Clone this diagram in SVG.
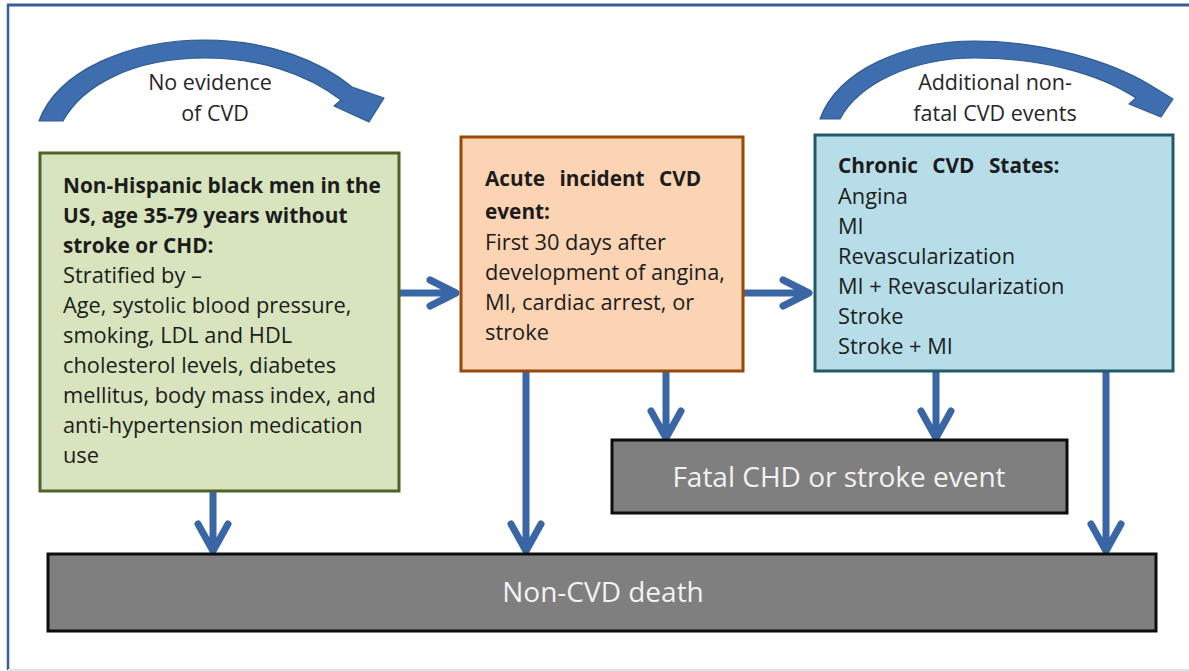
<svg xmlns="http://www.w3.org/2000/svg" width="1189" height="671" viewBox="0 0 1189 671">
<style>
.t{font-family:"Open Sans","Liberation Sans",Arial,sans-serif;fill:#1c1c1c}
.h{font-family:"Open Sans","Liberation Sans",Arial,sans-serif;fill:#262626;font-size:21.5px}
.b{font-weight:bold;font-size:20.8px}
.r{font-size:21.8px}
.w{font-family:"Open Sans","Liberation Sans",Arial,sans-serif;fill:#f2f2f2;font-size:28px}
.arr{fill:none;stroke:#3a66a6;stroke-width:7;stroke-linecap:round;stroke-linejoin:round}
.curve{fill:#3e6eae;stroke:#2f5a94;stroke-width:1.2;stroke-linejoin:round}
</style>
<rect x="0" y="0" width="1189" height="671" fill="#ffffff"/>
<g id="frame">
<line x1="7" y1="5" x2="1189" y2="5" stroke="#3b5f95" stroke-width="3"/>
<line x1="8" y1="4" x2="8" y2="670" stroke="#3b5f95" stroke-width="2.5"/>
<line x1="8" y1="670" x2="1189" y2="670" stroke="#dbe5f1" stroke-width="2"/>
</g>
<g id="connectors">
<path class="curve" d="M39,121 C58,70 130,40 205,40 C270,40 322,62 352,87 L384,98 L369,122 L334,106 L341,100 C306,73 258,58 205,58 C132,58 82,86 63,121 Z"/>
<path class="curve" d="M820,119 C838,70 905,41 975,41 C1045,41 1112,62 1150,85 L1173,99 L1161,117 L1129,104 L1136,98 C1098,73 1040,58 975,58 C910,58 858,85 840,119 Z"/>
<path class="arr" d="M400,293 H455 M430,280 L456,293 L430,306"/>
<path class="arr" d="M744,293 H808 M783,280 L809,293 L783,306"/>
<path class="arr" d="M213,492 V549 M198,524 L213,551 L228,524"/>
<path class="arr" d="M526,372 V549 M511,524 L526,551 L541,524"/>
<path class="arr" d="M666,372 V436 M651,411 L666,438 L681,411"/>
<path class="arr" d="M936,372 V436 M921,411 L936,438 L951,411"/>
<path class="arr" d="M1106,372 V549 M1091,524 L1106,551 L1121,524"/>
</g>
<g id="label-no-evidence">
<text class="h" x="210" y="90" text-anchor="middle">No evidence</text>
<text class="h" x="215" y="121" text-anchor="middle">of CVD</text>
</g>
<g id="label-additional">
<text class="h" x="995" y="90" text-anchor="middle">Additional non-</text>
<text class="h" x="995" y="121" text-anchor="middle">fatal CVD events</text>
</g>
<g id="node-population">
<rect x="40" y="153" width="359" height="338" fill="#d7e4bd" stroke="#4f6228" stroke-width="3"/>
<text class="t b" x="63" y="193">Non-Hispanic black men in the</text>
<text class="t b" x="63" y="223">US, age 35-79 years without</text>
<text class="t b" x="63" y="253">stroke or CHD:</text>
<text class="t r" x="63" y="283">Stratified by –</text>
<text class="t r" x="63" y="313">Age, systolic blood pressure,</text>
<text class="t r" x="63" y="343">smoking, LDL and HDL</text>
<text class="t r" x="63" y="373">cholesterol levels, diabetes</text>
<text class="t r" x="63" y="403">mellitus, body mass index, and</text>
<text class="t r" x="63" y="433">anti-hypertension medication</text>
<text class="t r" x="63" y="463">use</text>
</g>
<g id="node-acute">
<rect x="461" y="137" width="282" height="234" fill="#fbd4b4" stroke="#984807" stroke-width="3"/>
<text class="t b" x="485" y="186" word-spacing="9">Acute incident CVD</text>
<text class="t b" x="485" y="219">event:</text>
<text class="t r" x="485" y="250">First 30 days after</text>
<text class="t r" x="485" y="280">development of angina,</text>
<text class="t r" x="485" y="310">MI, cardiac arrest, or</text>
<text class="t r" x="485" y="340">stroke</text>
</g>
<g id="node-chronic">
<rect x="815" y="135" width="358" height="236" fill="#b7dee8" stroke="#215968" stroke-width="3"/>
<text class="t b" x="838" y="173" word-spacing="9">Chronic CVD States:</text>
<text class="t r" x="838" y="204">Angina</text>
<text class="t r" x="838" y="234">MI</text>
<text class="t r" x="838" y="264">Revascularization</text>
<text class="t r" x="838" y="294">MI + Revascularization</text>
<text class="t r" x="838" y="324">Stroke</text>
<text class="t r" x="838" y="354">Stroke + MI</text>
</g>
<g id="node-fatal">
<rect x="612" y="440" width="455" height="73" fill="#7f7f7f" stroke="#0d0d0d" stroke-width="3"/>
<text class="w" x="839" y="487" text-anchor="middle">Fatal CHD or stroke event</text>
</g>
<g id="node-noncvd">
<rect x="48" y="554" width="1108" height="77" fill="#7f7f7f" stroke="#0d0d0d" stroke-width="3"/>
<text class="w" x="603" y="602" text-anchor="middle">Non-CVD death</text>
</g>
</svg>
